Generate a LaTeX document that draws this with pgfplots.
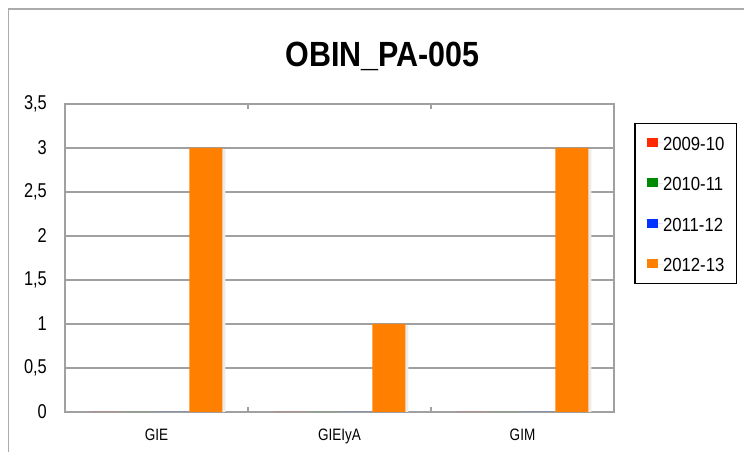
\documentclass[border=0pt]{standalone}
\usepackage{pgfplots}
\pgfplotsset{compat=1.18}
\usepackage{fontspec}
\setmainfont{Liberation Sans}
\newfontfamily\narrowfont[FakeStretch=0.82]{Liberation Sans}
\newfontfamily\legfont[FakeStretch=0.88]{Liberation Sans}
\newfontfamily\titlefont[FakeStretch=0.87]{Liberation Sans}
\definecolor{c1}{HTML}{FF2A00}
\definecolor{c2}{HTML}{008A00}
\definecolor{c3}{HTML}{0033FF}
\definecolor{c4}{HTML}{FF7F00}
\definecolor{gridgray}{HTML}{A0A0A0}
\begin{document}
\begin{tikzpicture}[x=1pt,y=1pt]
\useasboundingbox (0,0) rectangle (744,452);
\draw[color=black!33, line width=1.5pt] (8.5,0) -- (8.5,443) -- (744,443);
\node[anchor=base] at (382.5,385.5) {\titlefont\bfseries\fontsize{35}{40}\selectfont OBIN\_PA-005};
\begin{axis}[
  at={(65pt,40pt)}, anchor=south west,
  scale only axis, width=549pt, height=308pt,
  xmin=-0.5, xmax=2.5, ymin=0, ymax=3.5,
  xtick={0,1,2}, xticklabels={GIE,GIEIyA,GIM},
  minor xtick={0.5,1.5},
  ytick={0,0.5,1,1.5,2,2.5,3,3.5},
  major tick length=0pt, minor tick length=5pt, tick align=inside,
  minor tick style={gridgray, line width=1.3pt},
  ymajorgrids, grid style={gridgray, line width=1.3pt},
  axis line style={gridgray, line width=1.8pt},
  /pgf/number format/use comma,
  /pgf/number format/assume math mode=true,
  yticklabel style={font=\narrowfont\fontsize{20}{24}\selectfont, anchor=east, inner xsep=0pt, xshift=-18pt},
  xticklabel style={font=\narrowfont\fontsize{16.5}{20}\selectfont, anchor=base, yshift=-28pt},
  legend cell align=left,
  legend style={at={(1.0383,0.938)}, anchor=north west, draw=black, line width=1.1pt,
    outer sep=0pt, inner xsep=12pt, inner ysep=8.5pt, row sep=18.5pt,
    font=\legfont\fontsize{19}{22}\selectfont,
    nodes={inner xsep=0pt, inner ysep=0pt, text height=18.5pt, text depth=3.5pt}},
  legend image code/.code={\path (0pt,0pt) -- (16pt,0pt); \fill[#1, draw=none] (0pt,-4pt) rectangle (10.5pt,5pt);},
]
\addplot[ybar, bar width=0.18, bar shift=0.287, fill=black!8, draw=none, forget plot] coordinates {(0,2.985) (1,0.985) (2,2.985)};
\addplot[ybar, bar width=0.18, bar shift=-0.27, fill=c1, draw=none] coordinates {(0,0) (1,0) (2,0)};
\addplot[ybar, bar width=0.18, bar shift=-0.09, fill=c2, draw=none] coordinates {(0,0) (1,0) (2,0)};
\addplot[ybar, bar width=0.18, bar shift=0.09, fill=c3, draw=none] coordinates {(0,0) (1,0) (2,0)};
\addplot[ybar, bar width=0.18, bar shift=0.27, fill=c4, draw=none] coordinates {(0,3) (1,1) (2,3)};
\legend{2009-10,2010-11,2011-12,2012-13}
\end{axis}
\end{tikzpicture}
\end{document}
